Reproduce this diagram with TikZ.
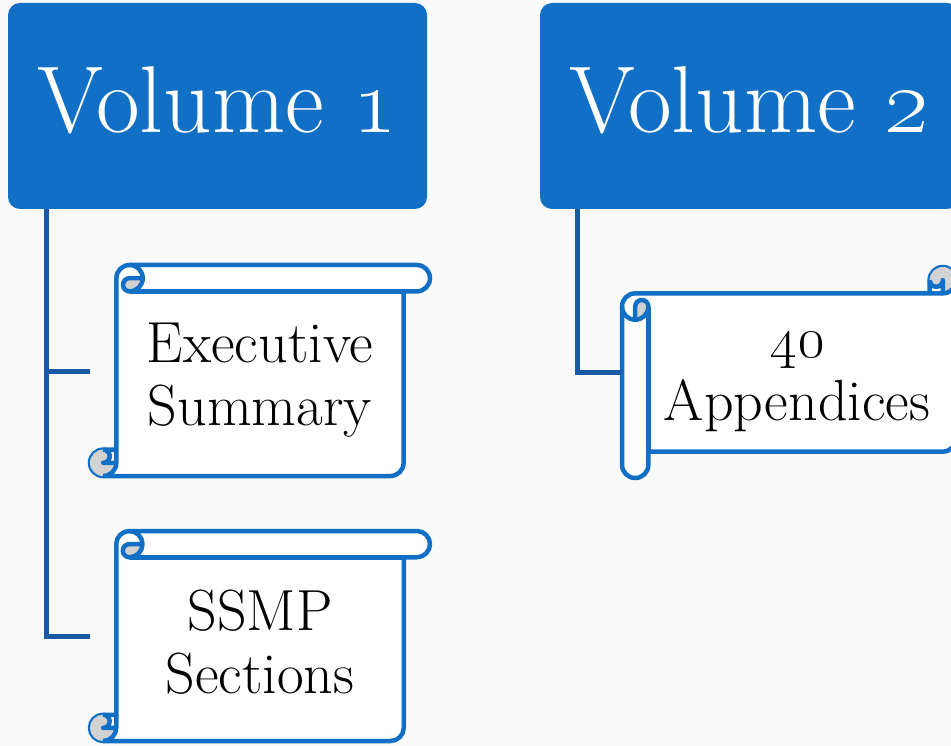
\RequirePackage{fix-cm}
\documentclass[tikz,border=0pt]{standalone}
\usetikzlibrary{calc}
\definecolor{volcolor}{RGB}{17,112,198}
\definecolor{linkcolor}{RGB}{24,90,163}
\definecolor{curlcolor}{RGB}{210,210,210}
\definecolor{bgcolor}{RGB}{250,250,250}

% scroll outline, drawn in local coordinates: #1 along the roll, #2 across it
\newcommand{\scrollshape}[2]{%
  \pgfmathsetmacro\sw{#1}
  \pgfmathsetmacro\sh{#2}
  \pgfmathsetmacro\sc{0.125*min(\sw,\sh)}
  \pgfmathsetmacro\sd{\sc/2}
  \pgfmathsetmacro\sq{\sc/4}
  \filldraw[scrollline, fill=white] (\sc,\sh-\sc) -- (\sc,\sd) arc[start angle=180, end angle=270, radius=\sd pt]
    -- (\sw-\sd,0) arc[start angle=270, end angle=450, radius=\sd pt] -- (\sw-\sc,\sc)
    -- (\sw-\sc,\sh-\sd) arc[start angle=0, end angle=90, radius=\sd pt]
    -- (\sd,\sh) arc[start angle=90, end angle=270, radius=\sd pt] -- cycle;
  \fill[curlcolor] (\sc+\sd,\sd) -- (2*\sc,\sd) arc[start angle=0, end angle=90, radius=\sd pt]
    arc[start angle=90, end angle=270, radius=\sq pt] -- cycle;
  \fill[curlcolor] (\sc,\sh-\sd) arc[start angle=0, end angle=270, radius=\sd pt]
    arc[start angle=270, end angle=450, radius=\sq pt] -- cycle;
  \draw[scrollline] (\sc+\sd,0) arc[start angle=270, end angle=450, radius=\sd pt]
    arc[start angle=90, end angle=270, radius=\sq pt] -- (2*\sc,\sd);
  \draw[scrollline] (\sw-\sc,\sc) -- (\sc+\sd,\sc);
  \draw[scrollline] (\sd,\sh-\sc) arc[start angle=270, end angle=450, radius=\sq pt] -- (\sc,\sh-\sd);
  \draw[scrollline] (\sd,\sh) arc[start angle=90, end angle=0, radius=\sd pt] -- (\sc,\sh-\sc);
}

\begin{document}
\begin{tikzpicture}[
    x=1pt, y=1pt, yscale=-1,
    volbox/.style={fill=volcolor, rounded corners=12pt, minimum width=419pt, minimum height=206pt, inner sep=0pt, text height=66pt, text depth=12pt, text=white, font=\fontsize{95}{110}\selectfont},
    scrollline/.style={draw=volcolor, line width=4.5pt, line join=round},
    scrolltext/.style={align=center, inner sep=0pt, font=\fontsize{58}{63}\selectfont},
    link/.style={draw=linkcolor, line width=5pt}
]
    \useasboundingbox (0,0) rectangle (951,746);
    \clip (0,0) rectangle (951,746);
    \fill[bgcolor] (0,0) rectangle (951,746);

    % Volume headers
    \node[volbox] (vol1) at (217.5,106) {Volume \oldstylenums{1}};
    \node[volbox] (vol2) at (749.5,106) {Volume \oldstylenums{2}};

    % Scrolls
    \begin{scope}[shift={(90,265)}]
        \scrollshape{340}{211}
    \end{scope}
    \begin{scope}[shift={(90,531)}]
        \scrollshape{340}{210}
    \end{scope}
    \begin{scope}[shift={(622,267)}, cm={0,1,1,0,(0,0)}]
        \scrollshape{211}{334}
    \end{scope}

    \node[scrolltext] (exec) at (260,380) {Executive\\Summary};
    \node[scrolltext] (ssmp) at (260,642) {SSMP\\Sections};
    \node[scrolltext] (apx) at (797,382) {\oldstylenums{40}\\Appendices};

    % Connectors
    \coordinate (exec-w) at (90,371);
    \coordinate (ssmp-w) at (90,636);
    \coordinate (apx-w) at (622,372);
    \draw[link] (vol1.south west) ++(39,0) |- (exec-w);
    \draw[link] (vol1.south west) ++(39,0) |- (ssmp-w);
    \draw[link] (vol2.south west) ++(38,0) |- (apx-w);
\end{tikzpicture}
\end{document}
